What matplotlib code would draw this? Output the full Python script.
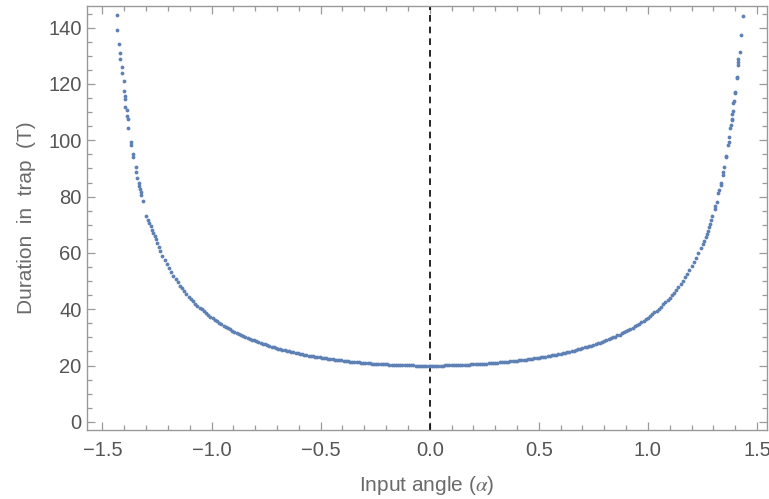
import matplotlib
matplotlib.use("Agg")
import matplotlib.pyplot as plt
from matplotlib.ticker import MultipleLocator

# ---- data ----
# sparse left branch (top-left)
alpha_left_top = [-1.433, -1.433, -1.424, -1.418, -1.418, -1.410, -1.410, -1.403, -1.403,
                  -1.397, -1.397, -1.395, -1.389, -1.389, -1.381, -1.381, -1.369, -1.369,
                  -1.361, -1.360, -1.347, -1.347, -1.340, -1.334, -1.333, -1.328, -1.325,
                  -1.322, -1.313, -1.299, -1.291, -1.285, -1.279, -1.273, -1.267, -1.261,
                  -1.255, -1.249, -1.243]
dur_left_top = [144.6, 139.2, 134.3, 131.0, 128.8, 126.0, 123.9, 121.2, 117.4,
                115.6, 114.7, 111.8, 110.8, 108.6, 107.7, 104.4, 99.3, 98.4,
                95.0, 94.0, 90.6, 88.8, 86.7, 84.9, 83.8, 82.8, 81.6,
                80.6, 78.5, 73.1, 71.7, 70.7, 69.6, 68.1, 67.0, 66.0,
                64.8, 63.6, 62.2]

# sparse right branch (top-right)
alpha_right_top = [1.434, 1.427, 1.421, 1.414, 1.413, 1.414, 1.407, 1.407, 1.399, 1.399,
                   1.393, 1.391, 1.391, 1.385, 1.385, 1.384, 1.379, 1.378, 1.370, 1.370,
                   1.366, 1.358, 1.357, 1.350, 1.343, 1.343, 1.337, 1.335, 1.327, 1.323,
                   1.315, 1.309, 1.306, 1.295, 1.289, 1.285, 1.281, 1.275, 1.269, 1.265,
                   1.259, 1.251, 1.242]
dur_right_top = [144.2, 137.5, 131.5, 128.8, 127.8, 126.6, 122.6, 122.2, 117.2, 116.9,
                 114.1, 113.1, 110.3, 109.2, 107.7, 107.2, 105.3, 104.3, 101.1, 99.4,
                 98.2, 94.4, 94.0, 90.6, 88.8, 87.7, 84.9, 84.0, 82.3, 81.4,
                 78.0, 76.7, 75.5, 73.1, 71.7, 70.3, 69.3, 67.9, 66.7, 65.5,
                 64.3, 63.2, 61.7]

# dense central part, right side
alpha_right = [0.00, 0.01, 0.02, 0.03, 0.04, 0.05, 0.06, 0.07, 0.08, 0.09,
               0.10, 0.11, 0.12, 0.13, 0.14, 0.15, 0.16, 0.17, 0.18, 0.19,
               0.20, 0.21, 0.22, 0.23, 0.24, 0.25, 0.26, 0.27, 0.28, 0.29,
               0.30, 0.31, 0.32, 0.33, 0.34, 0.35, 0.36, 0.37, 0.38, 0.39,
               0.40, 0.41, 0.42, 0.43, 0.44, 0.45, 0.46, 0.47, 0.48, 0.49,
               0.50, 0.51, 0.52, 0.53, 0.54, 0.55, 0.56, 0.57, 0.58, 0.59,
               0.60, 0.61, 0.62, 0.63, 0.64, 0.65, 0.66, 0.67, 0.68, 0.69,
               0.70, 0.71, 0.72, 0.73, 0.74, 0.75, 0.76, 0.77, 0.78, 0.79,
               0.80, 0.81, 0.82, 0.83, 0.84, 0.85, 0.86, 0.87, 0.88, 0.89,
               0.90, 0.91, 0.92, 0.93, 0.94, 0.95, 0.96, 0.97, 0.98, 0.99,
               1.00, 1.01, 1.02, 1.03, 1.04, 1.05, 1.06, 1.07, 1.08, 1.09,
               1.10, 1.11, 1.12, 1.13, 1.14, 1.15, 1.16, 1.17, 1.18, 1.19,
               1.20, 1.21, 1.22, 1.23]
dur_right = [20.0, 20.0, 20.0, 20.0, 20.0, 20.0, 20.0, 20.1, 20.1, 20.1,
             20.1, 20.1, 20.1, 20.2, 20.2, 20.2, 20.3, 20.3, 20.3, 20.4,
             20.4, 20.5, 20.5, 20.5, 20.6, 20.6, 20.7, 20.8, 20.8, 20.9,
             20.9, 21.0, 21.1, 21.2, 21.2, 21.3, 21.4, 21.5, 21.5, 21.6,
             21.7, 21.8, 21.9, 22.0, 22.1, 22.2, 22.3, 22.4, 22.6, 22.7,
             22.8, 22.9, 23.1, 23.2, 23.3, 23.5, 23.6, 23.8, 23.9, 24.1,
             24.2, 24.4, 24.6, 24.8, 24.9, 25.1, 25.3, 25.5, 25.7, 25.9,
             26.2, 26.4, 26.6, 26.8, 27.1, 27.3, 27.6, 27.9, 28.1, 28.4,
             28.7, 29.0, 29.3, 29.6, 30.0, 30.3, 30.7, 31.0, 31.4, 31.8,
             32.2, 32.6, 33.0, 33.5, 33.9, 34.4, 34.9, 35.4, 35.9, 36.5,
             37.0, 37.6, 38.2, 38.9, 39.5, 40.2, 40.9, 41.7, 42.4, 43.2,
             44.1, 45.0, 45.9, 46.9, 47.9, 49.0, 50.1, 51.3, 52.5, 53.8,
             55.2, 56.7, 58.2, 59.8]

# dense central part, left side
alpha_left = [-0.005, -0.015, -0.025, -0.035, -0.045, -0.055, -0.065, -0.075, -0.085, -0.095,
              -0.105, -0.115, -0.125, -0.135, -0.145, -0.155, -0.165, -0.175, -0.185, -0.195,
              -0.205, -0.215, -0.225, -0.235, -0.245, -0.255, -0.265, -0.275, -0.285, -0.295,
              -0.305, -0.315, -0.325, -0.335, -0.345, -0.355, -0.365, -0.375, -0.385, -0.395,
              -0.405, -0.415, -0.425, -0.435, -0.445, -0.455, -0.465, -0.475, -0.485, -0.495,
              -0.505, -0.515, -0.525, -0.535, -0.545, -0.555, -0.565, -0.575, -0.585, -0.595,
              -0.605, -0.615, -0.625, -0.635, -0.645, -0.655, -0.665, -0.675, -0.685, -0.695,
              -0.705, -0.715, -0.725, -0.735, -0.745, -0.755, -0.765, -0.775, -0.785, -0.795,
              -0.805, -0.815, -0.825, -0.835, -0.845, -0.855, -0.865, -0.875, -0.885, -0.895,
              -0.905, -0.915, -0.925, -0.935, -0.945, -0.955, -0.965, -0.975, -0.985, -0.995,
              -1.005, -1.015, -1.025, -1.035, -1.045, -1.055, -1.065, -1.075, -1.085, -1.095,
              -1.105, -1.115, -1.125, -1.135, -1.145, -1.155, -1.165, -1.175, -1.185, -1.195,
              -1.205, -1.215, -1.225, -1.235]
dur_left = [20.0, 20.0, 20.0, 20.0, 20.0, 20.0, 20.0, 20.1, 20.1, 20.1,
            20.1, 20.1, 20.2, 20.2, 20.2, 20.2, 20.3, 20.3, 20.3, 20.4,
            20.4, 20.5, 20.5, 20.6, 20.6, 20.7, 20.7, 20.8, 20.8, 20.9,
            21.0, 21.0, 21.1, 21.2, 21.3, 21.3, 21.4, 21.5, 21.6, 21.7,
            21.8, 21.8, 21.9, 22.0, 22.2, 22.3, 22.4, 22.5, 22.6, 22.7,
            22.9, 23.0, 23.1, 23.3, 23.4, 23.5, 23.7, 23.8, 24.0, 24.1,
            24.3, 24.5, 24.7, 24.8, 25.0, 25.2, 25.4, 25.6, 25.8, 26.0,
            26.3, 26.5, 26.7, 27.0, 27.2, 27.5, 27.7, 28.0, 28.3, 28.6,
            28.9, 29.2, 29.5, 29.8, 30.1, 30.5, 30.8, 31.2, 31.6, 32.0,
            32.4, 32.8, 33.2, 33.7, 34.2, 34.6, 35.1, 35.7, 36.2, 36.8,
            37.3, 37.9, 38.6, 39.2, 39.9, 40.6, 41.3, 42.0, 42.8, 43.7,
            44.5, 45.4, 46.4, 47.4, 48.4, 49.5, 50.7, 51.9, 53.2, 54.5,
            55.9, 57.4, 59.0, 60.6]

x_ticks = [-1.5, -1.0, -0.5, 0.0, 0.5, 1.0, 1.5]
x_tick_labels = ['\u22121.5', '\u22121.0', '\u22120.5', '0.0', '0.5', '1.0', '1.5']
y_ticks = [0, 20, 40, 60, 80, 100, 120, 140]

# ---- style ----
plt.rcParams['font.family'] = ['Liberation Sans', 'DejaVu Sans']
plt.rcParams['mathtext.fontset'] = 'stix'

point_color = '#5E81B5'
frame_color = '#9a9a9a'
tick_label_color = '#555555'
label_color = '#6a6a6a'

fig = plt.figure(figsize=(7.69, 4.99), dpi=100)
ax = fig.add_axes([0.1125, 0.1383, 0.8855, 0.8497])

xs = alpha_left_top + alpha_left + alpha_right + alpha_right_top
ys = dur_left_top + dur_left + dur_right + dur_right_top
ax.scatter(xs, ys, s=7.5, color=point_color, linewidths=0, zorder=3)

ax.axvline(0.0, color='black', lw=1.2, dashes=(4, 3), zorder=2)

ax.set_xlim(-1.573, 1.548)
ax.set_ylim(-2.9, 147.7)

ax.set_xticks(x_ticks)
ax.set_xticklabels(x_tick_labels)
ax.set_yticks(y_ticks)
ax.xaxis.set_minor_locator(MultipleLocator(0.1))
ax.yaxis.set_minor_locator(MultipleLocator(5))

ax.tick_params(which='both', direction='in', top=True, right=True,
               color=frame_color, width=0.9)
ax.tick_params(which='major', length=6, labelsize=14.5, labelcolor=tick_label_color)
ax.tick_params(which='minor', length=3.5)
ax.tick_params(axis='x', which='major', pad=8)
ax.tick_params(axis='y', which='major', pad=3.5)
for s in ax.spines.values():
    s.set_color(frame_color)
    s.set_linewidth(1.0)

ax.set_xlabel('Input angle ($\\alpha$)', fontsize=15, color=label_color, labelpad=10)
ax.set_ylabel('Duration  in  trap  (T)', fontsize=15, color=label_color, labelpad=9)

fig.savefig('out.png', dpi=100)
